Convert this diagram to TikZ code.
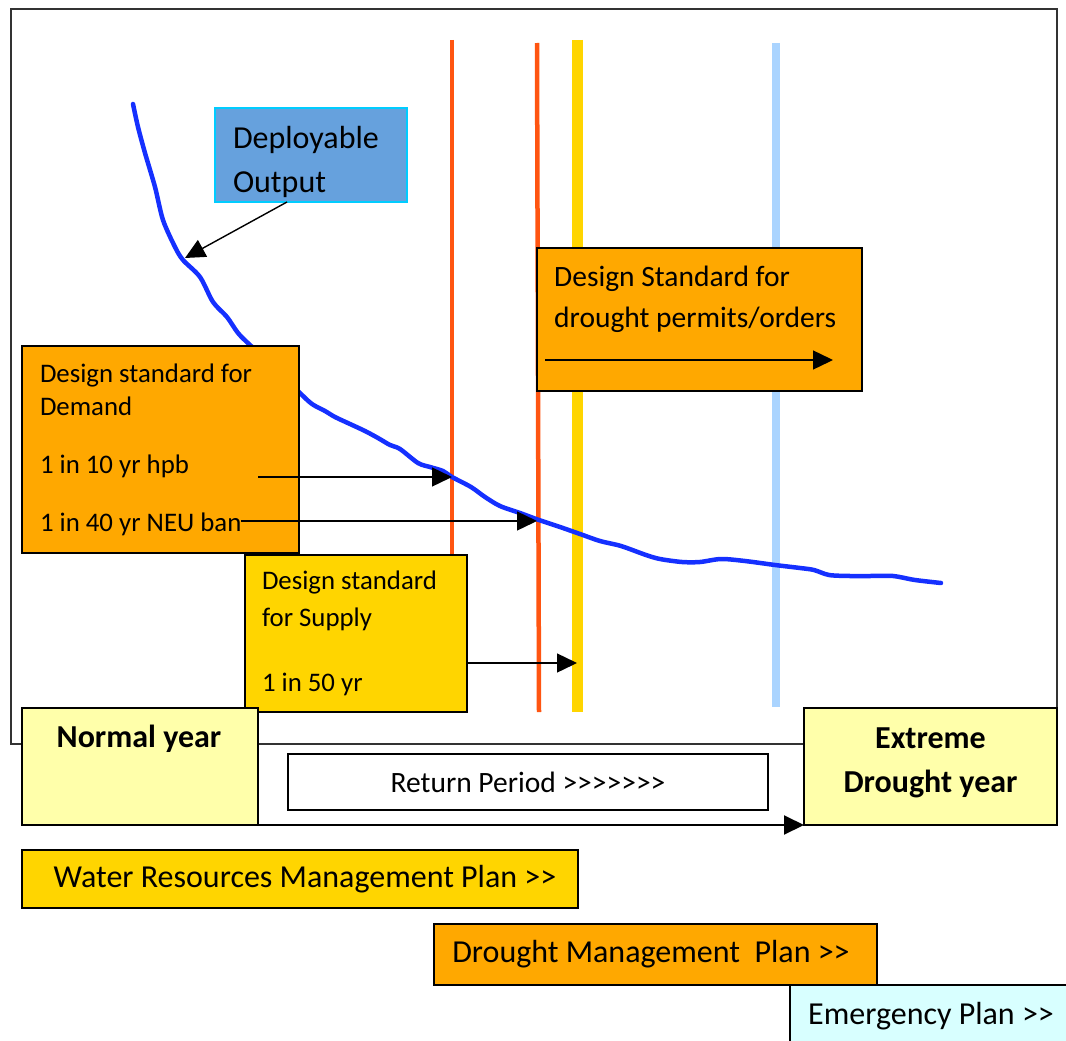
\documentclass[tikz,border=0pt]{standalone}
\usepackage{fontspec}
\setmainfont{Carlito}
\usetikzlibrary{arrows.meta}
\definecolor{dorange}{HTML}{FFA800}
\definecolor{dgold}{HTML}{FFD500}
\definecolor{pale}{HTML}{FFFFAA}
\definecolor{skyb}{HTML}{66A1DD}
\definecolor{cyanb}{HTML}{00CCFF}
\definecolor{redl}{HTML}{FF5511}
\definecolor{bluel}{HTML}{AAD4FF}
\definecolor{curveb}{HTML}{1530FF}
\definecolor{emerg}{HTML}{D8FFFF}
\newcommand{\fsz}[2]{\fontsize{#1}{#2}\selectfont}
\tikzset{
  box/.style={draw, line width=1.5pt, inner sep=0pt, outer sep=0pt, anchor=north west},
  arr/.style={line width=1.4pt, -{Triangle[length=20pt,width=19pt]}},
}
\begin{document}
\begin{tikzpicture}[x=1pt,y=-1pt]
\useasboundingbox (0,0) rectangle (1066,1041);
\draw[line width=1.3pt, black!80] (11,9) rectangle (1057,744);
\coordinate (r1top) at (452,40); \coordinate (r1bot) at (452,712);
\coordinate (r2top) at (537,43); \coordinate (r2bot) at (539,712);
\coordinate (y1top) at (577,40); \coordinate (y1bot) at (577,712);
\coordinate (b1top) at (776,43); \coordinate (b1bot) at (776,707);
\draw[redl, line width=4.5pt] (r1top) -- (r1bot);
\draw[redl, line width=4.5pt] (r2top) -- (r2bot);
\draw[dgold, line width=11pt] (y1top) -- (y1bot);
\draw[bluel, line width=8pt] (b1top) -- (b1bot);
\draw[curveb, line width=4.5pt, line cap=round] plot[smooth, tension=0.5] coordinates {(133,104) (138,127) (145,153) (155,187) (163,220) (175,247) (183,260) (200,277) (213,302) (227,317) (238,333) (250,345) (275,368) (300,393) (312,404) (325,411) (335,417) (350,424) (365,431) (378,438) (390,445) (400,449) (418,463) (430,467) (443,471) (452,477) (471,487) (485,497) (500,506) (520,513) (539,520) (560,527) (580,534) (600,541) (621,546) (646,555) (660,559) (682,562) (700,562) (721,559) (745,561) (775,565) (800,568) (814,570) (829,575) (850,576) (870,576) (893,576) (915,580) (941,583)};
\node[box, draw=cyanb, line width=2pt, fill=skyb, minimum width=192pt, minimum height=94pt, text width=156pt, align=flush left, font=\fsz{32}{44}] (deploy) at (215,108) {\rule{0pt}{36pt}Deployable\\Output};
\coordinate (dpo) at (185,258);
\draw[arr] ([xshift=-24pt]deploy.south) -- (dpo);
\node[box, fill=dorange, minimum width=325pt, minimum height=143pt] (permits) at (537,248) {};
\node[anchor=north west, inner sep=0pt, align=flush left, font=\fsz{29.5}{41}] (permitslbl) at (554,266) {Design Standard for\\drought permits/orders};
\coordinate (pa) at (545,360); \coordinate (pb) at (833,360);
\draw[arr] (pa) -- (pb);
\node[box, fill=dorange, minimum width=277pt, minimum height=207pt, text width=241pt, align=flush left, font=\fsz{26.8}{33}] (demand) at (22,346) {Design standard for\\Demand\\[25pt]1 in 10 yr hpb\\[25pt]1 in 40 yr NEU ban};
\node[box, fill=dgold, minimum width=222pt, minimum height=157pt, text width=188pt, align=flush left, font=\fsz{26.8}{37}] (supply) at (245,555) {Design standard\\for Supply\\[28pt]1 in 50 yr};
\coordinate (hpb) at (258,477); \draw[arr] (hpb) -- (hpb -| r1top);
\coordinate (neu) at (241,521); \draw[arr] (neu) -- (neu -| r2top);
\coordinate (fifty) at (467,663); \draw[arr] (fifty) -- (fifty -| y1top);
\node[box, fill=pale, minimum width=236pt, minimum height=117pt] (normal) at (22,708) {};
\node[inner sep=0pt, font=\fsz{32}{36}\bfseries] (normallbl) at (139,739) {Normal year};
\node[box, fill=pale, minimum width=253pt, minimum height=117pt, align=center, font=\fsz{32}{44}\bfseries] (extreme) at (804,708) {Extreme\\Drought year\rule[-12pt]{0pt}{0pt}};
\node[box, fill=white, minimum width=480pt, minimum height=56pt, font=\fsz{29.5}{32}] (returnp) at (288,754) {Return Period >{}>{}>{}>{}>{}>{}>};
\draw[arr, line width=2pt] (normal.south west) -- (extreme.south west);
\node[box, fill=dgold, minimum width=556pt, minimum height=58pt, font=\fsz{32}{36}] (wrmp) at (22,850) {\hspace*{10pt}Water Resources Management Plan >{}>};
\node[box, fill=dorange, minimum width=443pt, minimum height=61pt, font=\fsz{32}{36}] (dmp) at (434,924) {Drought Management\ \ Plan >{}>\hspace*{9pt}};
\node[box, fill=emerg, minimum width=282pt, minimum height=62pt, font=\fsz{32}{36}] (emp) at (790,985) {Emergency Plan >{}>};
\end{tikzpicture}
\end{document}
